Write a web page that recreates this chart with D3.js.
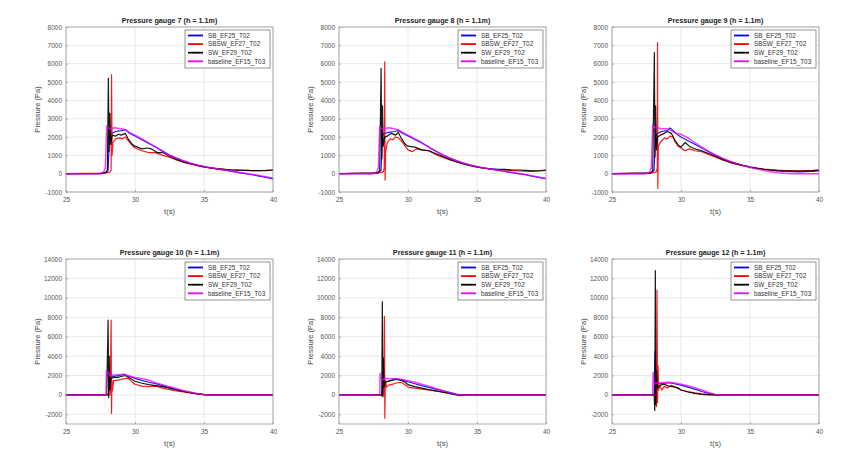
<!DOCTYPE html>
<html><head><meta charset="utf-8">
<script src="https://cdn.jsdelivr.net/npm/d3@7"></script>
<style>
html,body{margin:0;padding:0;background:#fff;}
svg{display:block;font-family:"Liberation Sans",Arial,sans-serif;}
</style></head>
<body><svg id="c" width="857" height="470"></svg>
<script>
// ---------------- DATA ----------------
const gaugeIds = [7, 8, 9, 10, 11, 12];
const seriesNames = ["SB_EF25_T02", "SBSW_EF27_T02", "SW_EF29_T02", "baseline_EF15_T03"];
const xTicks = [25, 30, 35, 40];
const yTicksTop = [-1000, 0, 1000, 2000, 3000, 4000, 5000, 6000, 7000, 8000];
const yTicksBottom = [-2000, 0, 2000, 4000, 6000, 8000, 10000, 12000, 14000];
const yDomainTop = [-1000, 8000];
const yDomainBottom = [-3000, 14000];

// gauge 7: [t (s), pressure (Pa)]
const g7_SB = [[25,0],[27.5,0],[27.9,80],[28.05,200],[28.15,2000],[28.3,2200],[28.6,2300],[29.0,2350],[29.3,2400],[29.6,2200],[30,2050],[30.5,1850],[31,1650],[31.5,1450],[32,1230],[32.5,1020],[33,850],[33.5,700],[34,570],[34.5,470],[35,390],[35.5,310],[36,250],[36.5,190],[37,120],[37.5,60],[38,0],[38.5,-60],[39,-130],[39.5,-200],[40,-280]];
const g7_SBSW = [[25,0],[27.8,30],[28.2,100],[28.27,200],[28.3,5400],[28.34,1000],[28.4,1700],[28.6,1900],[28.9,1950],[29.1,1900],[29.3,2000],[29.5,1800],[29.8,1550],[30,1400],[30.5,1250],[31,1150],[31.5,1150],[32,1000],[32.5,900],[33,750],[33.5,620],[34,530],[34.5,440],[35,360],[35.5,300],[36,260],[36.5,240],[37,210],[37.5,190],[38,180],[38.5,170],[39,160],[39.5,170],[40,200]];
const g7_SW = [[25,0],[27.5,0],[27.9,60],[28.0,200],[28.07,5200],[28.12,1200],[28.18,3300],[28.24,1600],[28.35,2100],[28.6,2050],[28.8,2150],[29.0,2100],[29.3,2200],[29.5,1900],[29.8,1600],[30,1500],[30.5,1350],[30.9,1400],[31.2,1350],[31.6,1150],[32,1150],[32.5,950],[33,780],[33.5,640],[34,540],[34.5,460],[35,370],[35.5,320],[36,270],[36.5,230],[37,200],[37.5,190],[38,180],[38.5,170],[39,170],[39.5,180],[40,200]];
const g7_base = [[25,0],[27.3,0],[27.7,60],[27.85,300],[27.95,2600],[28.05,2500],[28.2,2450],[28.5,2500],[29.0,2450],[29.3,2400],[29.6,2250],[30,2100],[30.5,1900],[31,1680],[31.5,1450],[32,1200],[32.5,1000],[33,850],[33.5,700],[34,580],[34.5,470],[35,390],[35.5,320],[36,260],[36.5,200],[37,140],[37.5,80],[38,20],[38.5,-40],[39,-100],[39.5,-170],[40,-250]];

// gauge 8
const g8_SB = [[25,0],[27.5,0],[27.9,80],[28.05,200],[28.15,2100],[28.3,2200],[28.6,2250],[29.0,2300],[29.3,2350],[29.6,2200],[30,2050],[30.5,1870],[31,1670],[31.5,1460],[32,1240],[32.5,1030],[33,860],[33.5,710],[34,580],[34.5,470],[35,390],[35.5,310],[36,250],[36.5,190],[37,120],[37.5,60],[38,0],[38.5,-60],[39,-130],[39.5,-200],[40,-270]];
const g8_SBSW = [[25,0],[27.8,30],[28.2,100],[28.28,300],[28.31,6100],[28.34,-350],[28.38,1200],[28.5,1700],[28.7,1900],[28.9,1850],[29.1,2000],[29.3,1950],[29.5,1800],[29.8,1500],[30,1300],[30.3,1200],[30.6,1350],[31,1300],[31.5,1250],[32,1050],[32.5,900],[33,760],[33.5,640],[34,540],[34.5,450],[35,370],[35.5,300],[36,250],[36.5,220],[37,190],[37.5,170],[38,150],[38.5,140],[39,130],[39.5,150],[40,180]];
const g8_SW = [[25,0],[27.8,40],[27.95,150],[28.05,5750],[28.1,800],[28.15,3700],[28.2,1500],[28.3,2000],[28.5,2050],[28.8,2200],[29.1,2100],[29.3,2250],[29.5,1950],[29.8,1600],[30,1500],[30.5,1450],[31,1300],[31.5,1250],[32,1100],[32.5,950],[33,780],[33.5,650],[34,530],[34.5,440],[35,360],[35.5,300],[36,260],[36.5,240],[37,230],[37.5,210],[38,200],[38.5,180],[39,150],[39.5,160],[40,200]];
const g8_base = [[25,0],[27.3,0],[27.7,50],[27.85,300],[27.95,2600],[28.05,2450],[28.3,2450],[28.6,2500],[29.0,2450],[29.3,2400],[29.6,2250],[30,2100],[30.5,1900],[31,1700],[31.5,1450],[32,1230],[32.5,1030],[33,860],[33.5,710],[34,580],[34.5,470],[35,380],[35.5,310],[36,250],[36.5,190],[37,130],[37.5,70],[38,10],[38.5,-50],[39,-120],[39.5,-190],[40,-260]];

// gauge 9
const g9_SB = [[25,0],[27.5,0],[27.9,80],[28.05,200],[28.15,2000],[28.3,2200],[28.6,2300],[29.0,2350],[29.2,2500],[29.5,2300],[29.8,2100],[30,2000],[30.5,1800],[31,1600],[31.5,1400],[32,1200],[32.5,1000],[33,830],[33.5,680],[34,560],[34.5,460],[35,370],[35.5,300],[36,240],[36.5,190],[37,150],[37.5,130],[38,110],[38.5,100],[39,110],[39.5,120],[40,150]];
const g9_SBSW = [[25,0],[27.8,30],[28.2,100],[28.28,300],[28.3,7150],[28.32,-800],[28.36,1500],[28.5,1700],[28.8,1950],[29.0,1900],[29.2,2050],[29.4,2000],[29.6,1700],[29.8,1500],[30,1400],[30.3,1250],[30.6,1350],[31,1250],[31.5,1200],[32,1050],[32.5,900],[33,750],[33.5,620],[34,520],[34.5,440],[35,360],[35.5,300],[36,250],[36.5,220],[37,190],[37.5,170],[38,160],[38.5,150],[39,150],[39.5,170],[40,200]];
const g9_SW = [[25,0],[27.8,40],[27.95,150],[28.07,6600],[28.11,900],[28.16,3700],[28.22,1300],[28.3,2000],[28.5,2100],[28.8,2200],[29.0,2300],[29.3,2200],[29.5,1900],[29.8,1550],[30,1450],[30.3,1700],[30.6,1500],[31,1350],[31.5,1250],[32,1100],[32.5,950],[33,780],[33.5,640],[34,530],[34.5,440],[35,350],[35.5,290],[36,240],[36.5,200],[37,170],[37.5,160],[38,150],[38.5,140],[39,150],[39.5,170],[40,200]];
const g9_base = [[25,0],[27.3,0],[27.7,60],[27.85,300],[27.95,2700],[28.05,2500],[28.3,2500],[28.6,2450],[29.0,2450],[29.3,2350],[29.6,2200],[30,2150],[30.5,1950],[31,1700],[31.5,1450],[32,1230],[32.5,1020],[33,850],[33.5,690],[34,560],[34.5,440],[35,340],[35.5,250],[36,170],[36.5,100],[37,50],[37.5,20],[38,0],[38.5,-10],[39,-10],[39.5,-10],[40,-10]];

// gauge 10
const g10_SB = [[25,0],[28.0,0],[28.1,200],[28.2,1800],[28.4,1900],[28.7,1950],[29.0,2050],[29.2,2150],[29.5,1950],[30,1700],[30.5,1500],[31,1300],[31.5,1150],[32,950],[32.5,750],[33,550],[33.5,380],[34,250],[34.5,120],[35,30],[35.3,0],[40,0]];
const g10_SBSW = [[25,0],[28.2,0],[28.27,7700],[28.3,-1900],[28.33,1500],[28.36,400],[28.45,1500],[28.7,1500],[29.0,1600],[29.3,1700],[29.5,1700],[29.8,1300],[30,1100],[30.5,900],[31,850],[31.5,900],[32,700],[32.5,550],[33,400],[33.5,300],[34,200],[34.5,100],[35,20],[35.3,0],[40,0]];
const g10_SW = [[25,0],[27.95,0],[28.05,7700],[28.09,-300],[28.13,4000],[28.18,500],[28.25,1700],[28.5,1800],[28.8,1800],[29.0,1900],[29.3,2000],[29.6,1750],[30,1400],[30.5,1200],[31,1050],[31.5,950],[32,850],[32.5,700],[33,500],[33.5,350],[34,220],[34.5,100],[35,20],[35.3,0],[40,0]];
const g10_base = [[25,0],[27.9,0],[27.93,2500],[28.05,2300],[28.2,2000],[28.5,2050],[29.0,2100],[29.3,2050],[29.6,1950],[30,1800],[30.5,1700],[31,1500],[31.5,1250],[32,1050],[32.5,850],[33,650],[33.5,450],[34,300],[34.5,150],[35,50],[35.3,0],[40,0]];

// gauge 11
const g11_SB = [[25,0],[28.1,0],[28.2,1300],[28.5,1400],[28.8,1500],[29.1,1650],[29.5,1550],[30,1350],[30.5,1150],[31,950],[31.5,780],[32,600],[32.5,430],[33,250],[33.5,80],[33.9,0],[40,0]];
const g11_SBSW = [[25,0],[28.25,0],[28.29,8100],[28.32,-2400],[28.36,1500],[28.45,800],[28.6,1000],[28.9,1100],[29.2,1250],[29.5,1300],[29.8,1050],[30,800],[30.5,700],[31,600],[31.5,500],[32,400],[32.5,300],[33,150],[33.5,20],[33.8,-50],[34,0],[40,0]];
const g11_SW = [[25,0],[28.05,0],[28.1,-100],[28.14,9600],[28.18,-200],[28.22,3800],[28.27,800],[28.35,1300],[28.6,1400],[28.9,1550],[29.2,1600],[29.5,1500],[29.8,1300],[30,1050],[30.5,850],[31,700],[31.5,550],[32,420],[32.5,280],[33,150],[33.5,0],[33.8,-80],[34,0],[40,0]];
const g11_base = [[25,0],[27.95,0],[27.98,2200],[28.05,1500],[28.2,1600],[28.5,1700],[29.0,1650],[29.5,1600],[30,1450],[30.5,1300],[31,1100],[31.5,900],[32,650],[32.5,450],[33,250],[33.5,50],[33.8,0],[40,0]];

// gauge 12
const g12_SB = [[25,0],[28.05,0],[28.12,4500],[28.16,-500],[28.22,1200],[28.5,1150],[28.8,1200],[29.2,1250],[29.5,1150],[30,1000],[30.5,800],[31,600],[31.5,350],[32,150],[32.4,30],[32.6,0],[40,0]];
const g12_SBSW = [[25,0],[28.15,0],[28.22,-1200],[28.26,10800],[28.3,-800],[28.34,3000],[28.38,500],[28.45,1000],[28.6,500],[28.8,900],[29.0,700],[29.3,1000],[29.6,800],[30,500],[30.5,350],[31,200],[31.5,100],[32,50],[32.4,0],[40,0]];
const g12_SW = [[25,0],[28.05,0],[28.1,-1600],[28.14,12800],[28.18,-1000],[28.22,2500],[28.3,700],[28.5,1000],[28.8,1100],[29.1,900],[29.4,850],[29.8,700],[30,500],[30.5,300],[31,150],[31.5,50],[32,0],[40,0]];
const g12_base = [[25,0],[27.95,0],[27.98,2300],[28.05,1100],[28.2,1200],[28.5,1250],[29.0,1300],[29.5,1250],[30,1100],[30.5,950],[31,750],[31.5,500],[32,250],[32.5,50],[32.7,0],[40,0]];

const gaugeSeries = [
  [g7_SB, g7_SBSW, g7_SW, g7_base],
  [g8_SB, g8_SBSW, g8_SW, g8_base],
  [g9_SB, g9_SBSW, g9_SW, g9_base],
  [g10_SB, g10_SBSW, g10_SW, g10_base],
  [g11_SB, g11_SBSW, g11_SW, g11_base],
  [g12_SB, g12_SBSW, g12_SW, g12_base]
];

// ---------------- STYLE / LAYOUT ----------------
const colors = ["#0000ff", "#ff0000", "#000000", "#ee00ff"];
const colX = [66, 339, 612];
const rowY = [27, 259];
const W = 207, H = 165;

const svg = d3.select("#c");
const fmt = d => String(d);

gaugeIds.forEach((gid, i) => {
  const row = Math.floor(i / 3), col = i % 3;
  const top = row === 0;
  const g = svg.append("g").attr("transform", `translate(${colX[col]},${rowY[row]})`);
  const x = d3.scaleLinear().domain([25, 40]).range([0, W]);
  const y = d3.scaleLinear().domain(top ? yDomainTop : yDomainBottom).range([H, 0]);
  const yt = top ? yTicksTop : yTicksBottom;

  // grid
  g.append("g").selectAll("line").data(xTicks).join("line")
    .attr("x1", d => x(d)).attr("x2", d => x(d)).attr("y1", 0).attr("y2", H)
    .attr("stroke", "#e3e3e3").attr("stroke-width", 0.8);
  g.append("g").selectAll("line").data(yt).join("line")
    .attr("x1", 0).attr("x2", W).attr("y1", d => y(d)).attr("y2", d => y(d))
    .attr("stroke", "#e3e3e3").attr("stroke-width", 0.8);

  // axes (labels + small inward ticks)
  const ax = g.append("g").attr("transform", `translate(0,${H})`)
    .call(d3.axisBottom(x).tickValues(xTicks).tickFormat(fmt).tickSizeInner(-2).tickSizeOuter(0).tickPadding(5));
  const ay = g.append("g")
    .call(d3.axisLeft(y).tickValues(yt).tickFormat(fmt).tickSizeInner(-2).tickSizeOuter(0).tickPadding(4));
  [ax, ay].forEach(a => {
    a.select(".domain").remove();
    a.selectAll("line").attr("stroke", "#8a8a8a").attr("stroke-width", 0.6);
    a.selectAll("text").attr("fill", "#555").style("font-size", "6.5px")
      .style("font-family", "'Liberation Sans',Arial,sans-serif");
  });

  // lines
  const clipId = "clip" + i;
  g.append("clipPath").attr("id", clipId).append("rect").attr("width", W).attr("height", H);
  const line = d3.line().x(d => x(d[0])).y(d => y(d[1]));
  const lg = g.append("g").attr("clip-path", `url(#${clipId})`);
  gaugeSeries[i].forEach((s, k) => {
    lg.append("path").datum(s).attr("d", line)
      .attr("fill", "none").attr("stroke", colors[k])
      .attr("stroke-width", k === 3 ? 1.5 : 1.2)
      .attr("stroke-opacity", k === 3 ? 0.75 : 0.9)
      .attr("stroke-linejoin", "round");
  });

  // box
  g.append("rect").attr("width", W).attr("height", H).attr("fill", "none")
    .attr("stroke", "#8a8a8a").attr("stroke-width", 0.7);

  // title
  g.append("text").attr("x", W / 2).attr("y", -4).attr("text-anchor", "middle")
    .style("font-size", "7.2px").style("font-weight", "bold").attr("fill", "#222")
    .text(`Pressure gauge ${gid} (h = 1.1m)`);

  // axis labels
  g.append("text").attr("x", W / 2).attr("y", H + 22).attr("text-anchor", "middle")
    .style("font-size", "7.5px").attr("fill", "#444").text("t(s)");
  g.append("text").attr("transform", `translate(-26,${H / 2}) rotate(-90)`)
    .attr("text-anchor", "middle").style("font-size", "7.5px").attr("fill", "#444")
    .text("Pressure (Pa)");

  // legend
  const lw = 85, lh = 38;
  const leg = g.append("g").attr("transform", `translate(${W - lw - 3},3)`);
  leg.append("rect").attr("width", lw).attr("height", lh).attr("fill", "#fff")
    .attr("stroke", "#666").attr("stroke-width", 0.7);
  seriesNames.forEach((n, k) => {
    const yy = 5.5 + k * 8.6;
    leg.append("line").attr("x1", 3).attr("x2", 18).attr("y1", yy).attr("y2", yy)
      .attr("stroke", colors[k]).attr("stroke-width", 1.8);
    leg.append("text").attr("x", 23).attr("y", yy + 2.3)
      .style("font-size", "6.4px").attr("fill", "#333").text(n);
  });
});
</script></body></html>
